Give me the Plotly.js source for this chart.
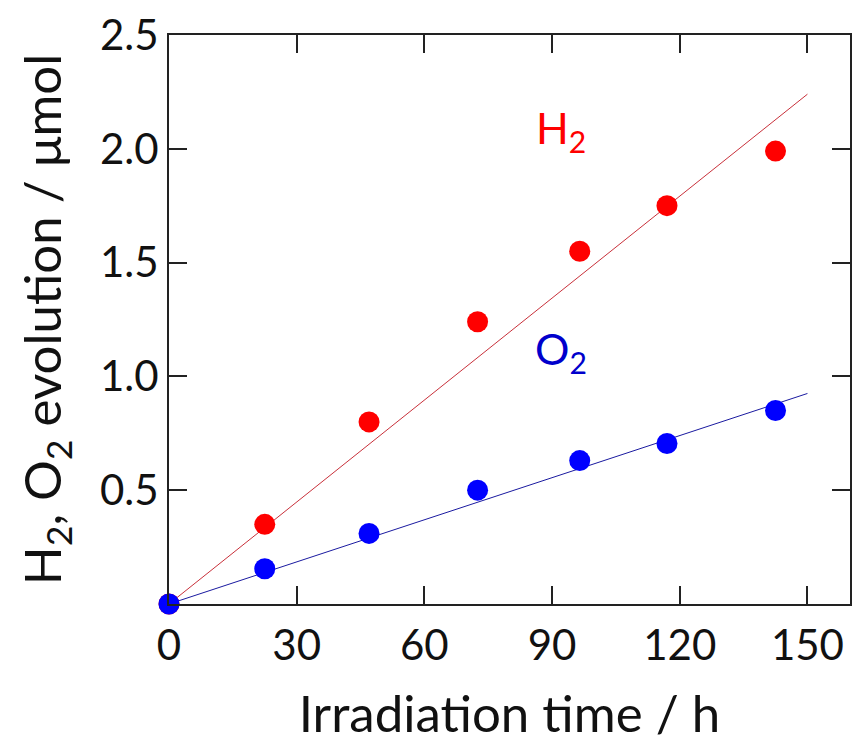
<!DOCTYPE html>
<html>
<head>
<meta charset="utf-8">
<script src="https://cdn.plot.ly/plotly-3.0.1.min.js"></script>
<style>html,body{margin:0;padding:0;background:#fff;}#chart{width:852px;height:743px;}</style>
</head>
<body>
<div id="chart"></div>
<script>
// Data
const timeH = [0, 22.5, 47, 72.5, 96.5, 117, 142.5];
const h2Umol = [0, 0.35, 0.80, 1.24, 1.55, 1.75, 1.99];
const o2Umol = [0, 0.155, 0.31, 0.50, 0.63, 0.705, 0.85];
const fitTime = [0, 150];
const h2Fit = [0, 2.24];
const o2Fit = [0, 0.925];
const xTicks = [0, 30, 60, 90, 120, 150];
const yTicks = [0.5, 1.0, 1.5, 2.0, 2.5];
const yTickText = ['0.5', '1.0', '1.5', '2.0', '2.5'];

const FONT = 'Lato, "Open Sans", sans-serif';

const traces = [
  {x: fitTime, y: h2Fit, mode: 'lines', line: {color: '#c8303a', width: 1}, hoverinfo: 'skip', showlegend: false},
  {x: fitTime, y: o2Fit, mode: 'lines', line: {color: '#1a1aa0', width: 1}, hoverinfo: 'skip', showlegend: false},
  {x: timeH, y: h2Umol, mode: 'markers', marker: {color: '#ff0000', size: 21}, name: 'H2', showlegend: false, cliponaxis: false},
  {x: timeH, y: o2Umol, mode: 'markers', marker: {color: '#0000ff', size: 21}, name: 'O2', showlegend: false, cliponaxis: false}
];

const axisCommon = {
  showline: true, linecolor: '#222', linewidth: 2, mirror: 'ticks',
  ticks: 'inside', ticklen: 18, tickwidth: 2, tickcolor: '#222',
  showgrid: false, zeroline: false,
  tickfont: {family: FONT, size: 42, color: '#111'}
};

const layout = {
  width: 852, height: 743,
  margin: {l: 169, r: 2, t: 35, b: 139},
  paper_bgcolor: '#fff', plot_bgcolor: '#fff',
  font: {family: FONT, color: '#111'},
  xaxis: Object.assign({}, axisCommon, {
    range: [0, 160], tickmode: 'array', tickvals: xTicks, ticklabelstandoff: 4,
    title: {text: 'Irradiation time / h', font: {family: FONT, size: 51, color: '#111'}, standoff: 30}
  }),
  yaxis: Object.assign({}, axisCommon, {
    range: [0, 2.5], tickmode: 'array', tickvals: yTicks, ticktext: yTickText,
    title: {text: 'H<sub>2</sub>, O<sub>2</sub> evolution / μmol', font: {family: FONT, size: 51, color: '#111'}, standoff: 22}
  }),
  annotations: [
    {x: 92, y: 2.08, xref: 'x', yref: 'y', text: 'H<sub>2</sub>', showarrow: false, font: {family: FONT, size: 43, color: '#ff0000'}},
    {x: 92, y: 1.11, xref: 'x', yref: 'y', text: 'O<sub>2</sub>', showarrow: false, font: {family: FONT, size: 43, color: '#0000cc'}}
  ]
};

Plotly.newPlot('chart', traces, layout, {displayModeBar: false, staticPlot: true});
</script>
</body>
</html>
